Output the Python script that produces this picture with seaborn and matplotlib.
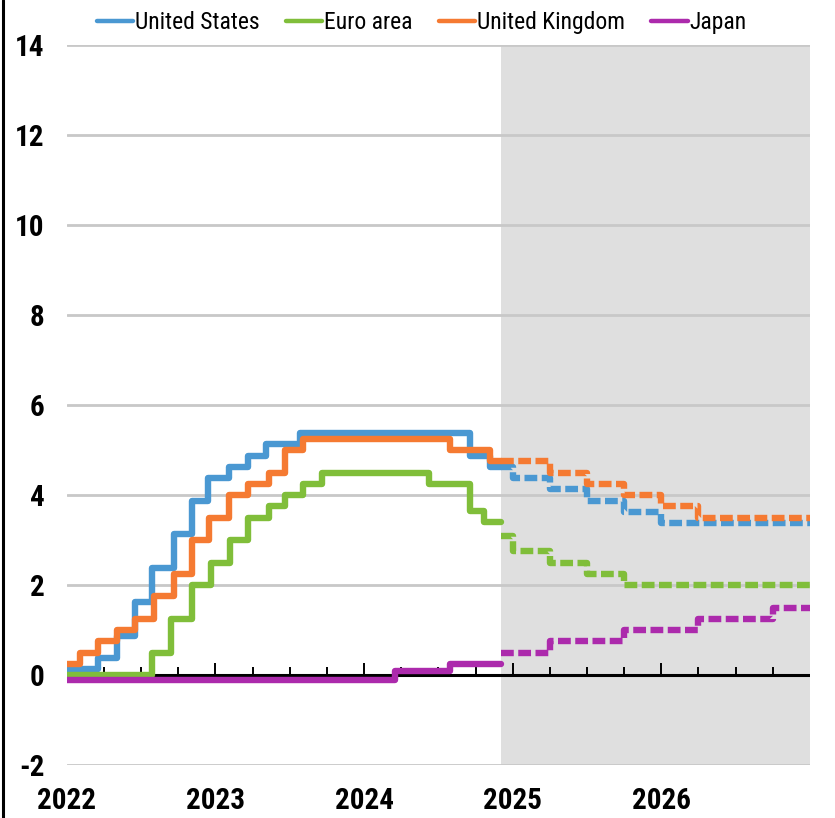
import numpy as np
import pandas as pd
import matplotlib
matplotlib.use("Agg")
import matplotlib.pyplot as plt
from matplotlib.lines import Line2D
from matplotlib import font_manager
import seaborn as sns

sns.set_theme(style="white")

# Preferir una fuente estrecha si existe; si no, Liberation Sans con tamanos menores
instaladas = {f.name for f in font_manager.fontManager.ttflist}
estrechas = [n for n in ["Liberation Sans Narrow", "DejaVu Sans Condensed", "Roboto Condensed"]
             if n in instaladas]
plt.rcParams["font.family"] = estrechas + ["Liberation Sans", "DejaVu Sans"]
plt.rcParams["text.color"] = "black"
if estrechas:
    size_ticks, size_leyenda = 21, 17
else:
    size_ticks, size_leyenda = 19, 15.5

# Policy rates (%), step changes in decimal years
countries = ["United States", "Euro area", "United Kingdom", "Japan"]
colores = ["#4A98D2", "#80BE3A", "#F57A32", "#AC2AAC"]

us_actual_dates = [2022.0, 2022.21, 2022.34, 2022.46, 2022.57, 2022.72, 2022.84, 2022.95,
                   2023.09, 2023.22, 2023.34, 2023.57, 2024.71, 2024.85]
us_actual_rates = [0.125, 0.375, 0.875, 1.625, 2.375, 3.125, 3.875, 4.375,
                   4.625, 4.875, 5.125, 5.375, 4.875, 4.625]
us_proj_dates = [2024.92, 2025.0, 2025.25, 2025.5, 2025.75, 2026.0]
us_proj_rates = [4.625, 4.375, 4.125, 3.875, 3.625, 3.375]

ea_actual_dates = [2022.0, 2022.57, 2022.70, 2022.84, 2022.97, 2023.10, 2023.22, 2023.36,
                   2023.47, 2023.59, 2023.72, 2024.44, 2024.71, 2024.81]
ea_actual_rates = [0.0, 0.5, 1.25, 2.0, 2.5, 3.0, 3.5, 3.75,
                   4.0, 4.25, 4.5, 4.25, 3.65, 3.4]
ea_proj_dates = [2024.92, 2025.0, 2025.25, 2025.5, 2025.75]
ea_proj_rates = [3.1, 2.75, 2.5, 2.25, 2.0]

uk_actual_dates = [2022.0, 2022.09, 2022.21, 2022.34, 2022.46, 2022.59, 2022.72, 2022.84,
                   2022.96, 2023.09, 2023.22, 2023.36, 2023.47, 2023.59, 2024.58, 2024.85]
uk_actual_rates = [0.25, 0.5, 0.75, 1.0, 1.25, 1.75, 2.25, 3.0,
                   3.5, 4.0, 4.25, 4.5, 5.0, 5.25, 5.0, 4.75]
uk_proj_dates = [2024.92, 2025.25, 2025.5, 2025.75, 2026.0, 2026.25]
uk_proj_rates = [4.75, 4.5, 4.25, 4.0, 3.75, 3.5]

jp_actual_dates = [2022.0, 2024.21, 2024.58]
jp_actual_rates = [-0.1, 0.1, 0.25]
jp_proj_dates = [2024.92, 2025.25, 2025.75, 2026.25, 2026.75]
jp_proj_rates = [0.5, 0.75, 1.0, 1.25, 1.5]

inicio_proyeccion = 2024.92
fin = 2027.0
years = [2022, 2023, 2024, 2025, 2026]
y_ticks = [-2, 0, 2, 4, 6, 8, 10, 12, 14]

series = {
    "United States": (us_actual_dates, us_actual_rates, us_proj_dates, us_proj_rates),
    "Euro area": (ea_actual_dates, ea_actual_rates, ea_proj_dates, ea_proj_rates),
    "United Kingdom": (uk_actual_dates, uk_actual_rates, uk_proj_dates, uk_proj_rates),
    "Japan": (jp_actual_dates, jp_actual_rates, jp_proj_dates, jp_proj_rates),
}

filas = []
for pais, (ad, ar, pd_, pr) in series.items():
    for d, r in zip(ad + [inicio_proyeccion], ar + [ar[-1]]):
        filas.append({"date": d, "rate": r, "country": pais, "part": "Actual"})
    for d, r in zip(pd_ + [fin], pr + [pr[-1]]):
        filas.append({"date": d, "rate": r, "country": pais, "part": "Projection"})
df = pd.DataFrame(filas)

fig = plt.figure(figsize=(8.35, 8.18), dpi=100)
ax = fig.add_axes([0.080, 0.0648, 0.890, 0.880])

# Zona de proyeccion sombreada
ax.axvspan(inicio_proyeccion, fin, color="#DFDFDF", zorder=0, lw=0)
ax.set_axisbelow(True)
ax.grid(axis="y", color="#C8C8C8", linewidth=2)
ax.axhline(0, color="black", linewidth=2.2, zorder=1.5)

# Marcas trimestrales sobre la linea de cero
trimestres = np.arange(2022.25, 2027.0, 0.25)
es_anio = np.isclose(trimestres % 1, 0)
ax.vlines(trimestres[~es_anio], 0, 0.18, color="black", linewidth=1.4, zorder=1.5)
ax.vlines(trimestres[es_anio], 0, 0.27, color="black", linewidth=1.4, zorder=1.5)

sns.lineplot(data=df, x="date", y="rate", hue="country", style="part",
             hue_order=countries, palette=colores, style_order=["Actual", "Projection"],
             dashes={"Actual": "", "Projection": (2.0, 0.7)}, drawstyle="steps-post",
             linewidth=4.6, estimator=None, legend=False, ax=ax, zorder=3)

ax.set_xlim(2022.0, fin)
ax.set_ylim(-2, 14)
ax.set_xticks(years)
ax.set_xticklabels([str(y) for y in years], fontsize=size_ticks, fontweight="bold")
ax.set_yticks(y_ticks)
ax.set_yticklabels([str(v) for v in y_ticks], fontsize=size_ticks, fontweight="bold")
ax.tick_params(axis="x", length=0, pad=16, labelcolor="black")
ax.tick_params(axis="y", length=0, pad=16, labelcolor="black")
ax.set_xlabel("")
ax.set_ylabel("")
for s in ax.spines.values():
    s.set_visible(False)

# Borde izquierdo de la figura
fig.add_artist(Line2D([0.004, 0.004], [0, 1], color="black", linewidth=2.2,
                      transform=fig.transFigure))

handles = [Line2D([0], [0], color=c, linewidth=3.2) for c in colores]
fig.legend(handles, countries, loc="center", bbox_to_anchor=(0.505, 0.972), ncol=4,
           frameon=False, fontsize=size_leyenda, handlelength=1.55, handletextpad=0.08,
           columnspacing=1.1, borderaxespad=0, labelcolor="black")

fig.savefig("out.png", dpi=100)
